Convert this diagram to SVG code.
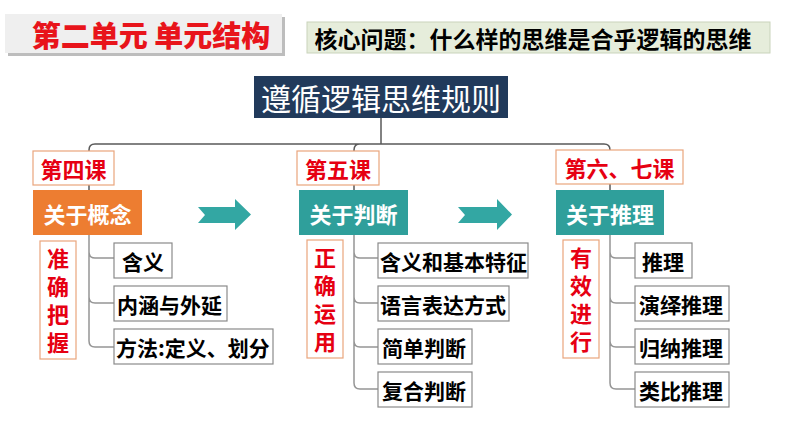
<svg xmlns="http://www.w3.org/2000/svg" width="794" height="447" viewBox="0 0 794 447">
<style>
text{font-family:"Noto Sans CJK SC","Noto Sans",sans-serif;dominant-baseline:central;text-anchor:middle}
.lesson rect{fill:#fff;stroke:#E9A57C;stroke-width:1.2}
.lesson text{fill:#E60012;font-weight:bold;font-size:22px}
.topic text{fill:#fff;font-weight:bold;font-size:22px}
.vert rect{fill:#fff;stroke:#E9A57C;stroke-width:1.2}
.vert text{fill:#E60012;font-weight:bold;font-size:22px;writing-mode:vertical-rl;text-orientation:upright;letter-spacing:6px}
.item rect{fill:#fff;stroke:#8A8A8A;stroke-width:1.2}
.item text{fill:#000;font-weight:bold;font-size:21px;text-anchor:start}
.conn path{fill:none;stroke-width:1.5}
.arrow{fill:#33A7A3}
</style>
<g id="title">
<rect x="8" y="17" width="277" height="39" fill="#BDBDBD"/>
<rect x="5" y="14" width="277" height="39" fill="#EFEFEF"/>
<text x="151" y="34" font-size="29" font-weight="900" fill="#E8141B">第二单元 单元结构</text>
</g>
<g id="question">
<rect x="307" y="22" width="463" height="31" fill="#E6EDDB" stroke="#C9D3BB" stroke-width="1"/>
<text x="533" y="38" font-size="23" font-weight="bold" fill="#000">核心问题：什么样的思维是合乎逻辑的思维</text>
</g>
<g class="conn" id="connectors">
<path stroke="#5A5A5A" d="M381,118 V144 H95 Q89,144 89,150 V190 M381,144 H360 Q354,144 354,150 V190 M381,144 H604 Q610,144 610,150 V190"/>
<path stroke="#959595" d="M89,235 V341 Q89,347 95,347 H114 M89,252 Q89,258 95,258 H114 M89,297 Q89,303 95,303 H114"/>
<path stroke="#959595" d="M354,235 V383 Q354,389 360,389 H378 M354,252 Q354,258 360,258 H378 M354,297 Q354,303 360,303 H378 M354,341 Q354,347 360,347 H378"/>
<path stroke="#959595" d="M610,235 V383 Q610,389 616,389 H635 M610,252 Q610,258 616,258 H635 M610,297 Q610,303 616,303 H635 M610,341 Q610,347 616,347 H635"/>
</g>
<g id="root">
<rect x="254" y="76" width="254" height="42" fill="#213A5B"/>
<text x="381" y="97" font-size="30" fill="#fff">遵循逻辑思维规则</text>
</g>
<g id="lesson4" class="lesson"><rect x="33" y="151" width="81" height="34"/><text x="73.5" y="168">第四课</text></g>
<g id="lesson5" class="lesson"><rect x="297" y="151" width="82" height="34"/><text x="338" y="168">第五课</text></g>
<g id="lesson67" class="lesson"><rect x="556" y="150" width="127" height="34"/><text x="619.5" y="167">第六、七课</text></g>
<g id="topic1" class="topic"><rect x="33" y="190" width="109" height="45" fill="#ED7D31"/><text x="87.5" y="212.5">关于概念</text></g>
<g id="topic2" class="topic"><rect x="299" y="190" width="109" height="45" fill="#2F9F9B"/><text x="353.5" y="212.5">关于判断</text></g>
<g id="topic3" class="topic"><rect x="556" y="190" width="108" height="45" fill="#2F9F9B"/><text x="610" y="212.5">关于推理</text></g>
<g id="arrow1"><polygon class="arrow" points="198,207 235,207 235,199 251,214.5 235,230 235,223 198,223 205,215"/></g>
<g id="arrow2"><polygon class="arrow" points="458,207 497,207 497,199 512,214.5 497,230 497,223 458,223 465,215"/></g>
<g id="v1" class="vert"><rect x="40" y="241" width="36" height="118"/>
<text x="58" y="248" style="text-anchor:start">准确把握</text></g>
<g id="v2" class="vert"><rect x="307" y="240" width="36" height="118"/>
<text x="325" y="247" style="text-anchor:start">正确运用</text></g>
<g id="v3" class="vert"><rect x="563" y="240" width="36" height="118"/>
<text x="581" y="247" style="text-anchor:start">有效进行</text></g>
<g id="c1a" class="item"><rect x="114" y="243" width="58" height="35"/><text x="122" y="260.5">含义</text></g>
<g id="c1b" class="item"><rect x="114" y="286" width="113" height="35"/><text x="117" y="303.5">内涵与外延</text></g>
<g id="c1c" class="item"><rect x="114" y="329" width="159" height="35"/><text x="116" y="346.5">方法:定义、划分</text></g>
<g id="c2a" class="item"><rect x="378" y="243" width="150" height="35"/><text x="380" y="260.5">含义和基本特征</text></g>
<g id="c2b" class="item"><rect x="378" y="286" width="131" height="35"/><text x="380" y="303.5">语言表达方式</text></g>
<g id="c2c" class="item"><rect x="378" y="329" width="94" height="35"/><text x="382" y="346.5">简单判断</text></g>
<g id="c2d" class="item"><rect x="378" y="372" width="94" height="35"/><text x="382" y="389.5">复合判断</text></g>
<g id="c3a" class="item"><rect x="635" y="243" width="57" height="35"/><text x="642" y="260.5">推理</text></g>
<g id="c3b" class="item"><rect x="635" y="286" width="94" height="35"/><text x="639" y="303.5">演绎推理</text></g>
<g id="c3c" class="item"><rect x="635" y="329" width="94" height="35"/><text x="639" y="346.5">归纳推理</text></g>
<g id="c3d" class="item"><rect x="635" y="372" width="94" height="35"/><text x="639" y="389.5">类比推理</text></g>
</svg>
